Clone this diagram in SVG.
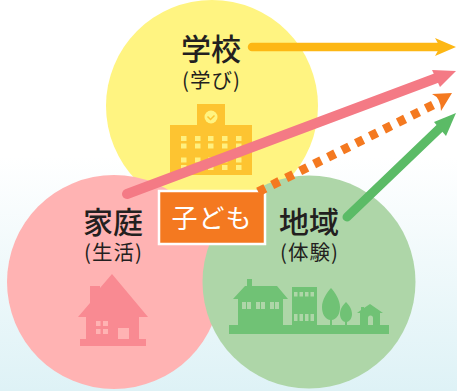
<svg xmlns="http://www.w3.org/2000/svg" width="457" height="391" viewBox="0 0 457 391">
<style>
text{font-family:"Noto Sans CJK JP","Noto Sans",sans-serif;text-anchor:middle;fill:#231f20}
.t{font-size:30px;font-weight:500}
.s{font-size:20.500px;font-weight:400;letter-spacing:1px}
.ln{fill:none;stroke-width:8.500;stroke-linecap:round}
.w1{fill:#fff07f}.w2{fill:#ffb3b3}.w3{fill:#aed6a8}
</style>
<defs>
<linearGradient id="bg" x1="0" y1="0" x2="0" y2="1"><stop offset="0.4" stop-color="#ffffff"/><stop offset="1" stop-color="#def2f6"/></linearGradient>
</defs>
<rect width="457" height="391" fill="url(#bg)"/>
<g id="node-school">
<circle cx="212" cy="106" r="106" fill="#fff481"/>
<path fill="#fdc431" d="M197 104h28v21h27v50h-82v-50h27z"/>
<circle cx="211" cy="117" r="6.500" fill="#fff481"/>
<path d="M207.500 116.500l3 3l4-4" fill="none" stroke="#fdc431" stroke-width="1.500"/>
<path class="w1" d="M181 136h5.500v5h-5.500zM195 136h5.500v5h-5.500zM208 136h5.500v5h-5.500zM222 136h5.500v5h-5.500zM236 136h5.500v5h-5.500zM181 143.500h5.500v5h-5.500zM195 143.500h5.500v5h-5.500zM208 143.500h5.500v5h-5.500zM222 143.500h5.500v5h-5.500zM236 143.500h5.500v5h-5.500zM181 157.500h5.500v5h-5.500zM195 157.500h5.500v5h-5.500zM208 157.500h5.500v5h-5.500zM222 157.500h5.500v5h-5.500zM236 157.500h5.500v5h-5.500zM181 165h5.500v5h-5.500zM195 165h5.500v5h-5.500zM208 165h5.500v5h-5.500zM222 165h5.500v5h-5.500zM236 165h5.500v5h-5.500z"/>
<text class="t" x="211" y="60">学校</text>
<text class="s" x="211.500" y="88">(学び)</text>
</g>
<g id="node-home">
<circle cx="114" cy="282" r="107" fill="#ffb3b3"/>
<path fill="#f98a92" d="M112 274L148 317H139V339H146V346H80V339H86V317H78L90 303V286H100V288z"/>
<path class="w2" d="M118 328h11v11h-11zM96 321h4.500v5h-4.500zM103 321h5v5h-5zM96 329h4.500v5h-4.500zM103 329h5v5h-5z"/>
<text class="t" x="113" y="233">家庭</text>
<text class="s" x="113.500" y="260">(生活)</text>
</g>
<g id="node-community">
<circle cx="309" cy="282" r="106.500" fill="#aed6a8"/>
<g fill="#70c275">
<path d="M229 325h160v9H229z"/>
<path d="M238 325V299h-5l12-13h2v-7h5v7h25l11 13h-5v26z"/>
<path d="M292 287h25v38h-25z"/>
<path d="M330 325v-5c-5-1-8-6-8-13c0-7 5-15 9-19c4 4 9 12 9 19c0 7-3 12-8 13v5z"/>
<path d="M345 325v-3c-3-1-5-4-5-8c0-5 3-9 6-12c3 3 6 7 6 12c0 4-2 7-5 8v3z"/>
<path d="M360 325v-12h-3l4-3v-3h3v1l6-4l13 9h-3v12z"/>
</g>
<path class="w3" d="M242 302h4v7h-4zM247 302h4v7h-4zM256 302h4v7h-4zM261 302h4v7h-4zM270 302h4v7h-4zM275 302h4v7h-4zM294 292h3.500v4.500h-3.500zM299.500 292h3.500v4.500h-3.500zM305 292h3.500v4.500h-3.500zM310.500 292h3.500v4.500h-3.500zM294 314h3.500v7h-3.500zM299.500 314h3.500v7h-3.500zM305 314h3.500v7h-3.500zM310.500 314h3.500v7h-3.500zM368 325v-7a2.500 2.500 0 0 1 5 0v7z"/>
<text class="t" x="309" y="233">地域</text>
<text class="s" x="309.500" y="260">(体験)</text>
</g>
<g id="node-child">
<rect x="159" y="191" width="106" height="53" fill="#f47920" stroke="#fff" stroke-width="2.500"/>
<text x="212" y="228" font-size="26" letter-spacing="1" style="fill:#fff;font-weight:400">子ども</text>
</g>
<g id="connectors">
<path class="ln" stroke="#fdb714" d="M252 47H440"/>
<path fill="#fdb714" d="M456 47L435 38L440 47L435 56z"/>
<path class="ln" stroke="#f47a85" style="stroke-width:10" d="M127 194L442 76"/>
<path fill="#f47a85" d="M456 71L432 70L440 87z"/>
<path fill="none" stroke="#f47920" stroke-width="9" stroke-dasharray="8 7.600" d="M433 105L258 192"/>
<path fill="#f47920" d="M452 93L432 94Q441 98 441 111z"/>
<path class="ln" stroke="#5bbb66" style="stroke-width:9" d="M347 217L442 126"/>
<path fill="#5bbb66" d="M456 113L434 122L446 136z"/>
</g>
</svg>
